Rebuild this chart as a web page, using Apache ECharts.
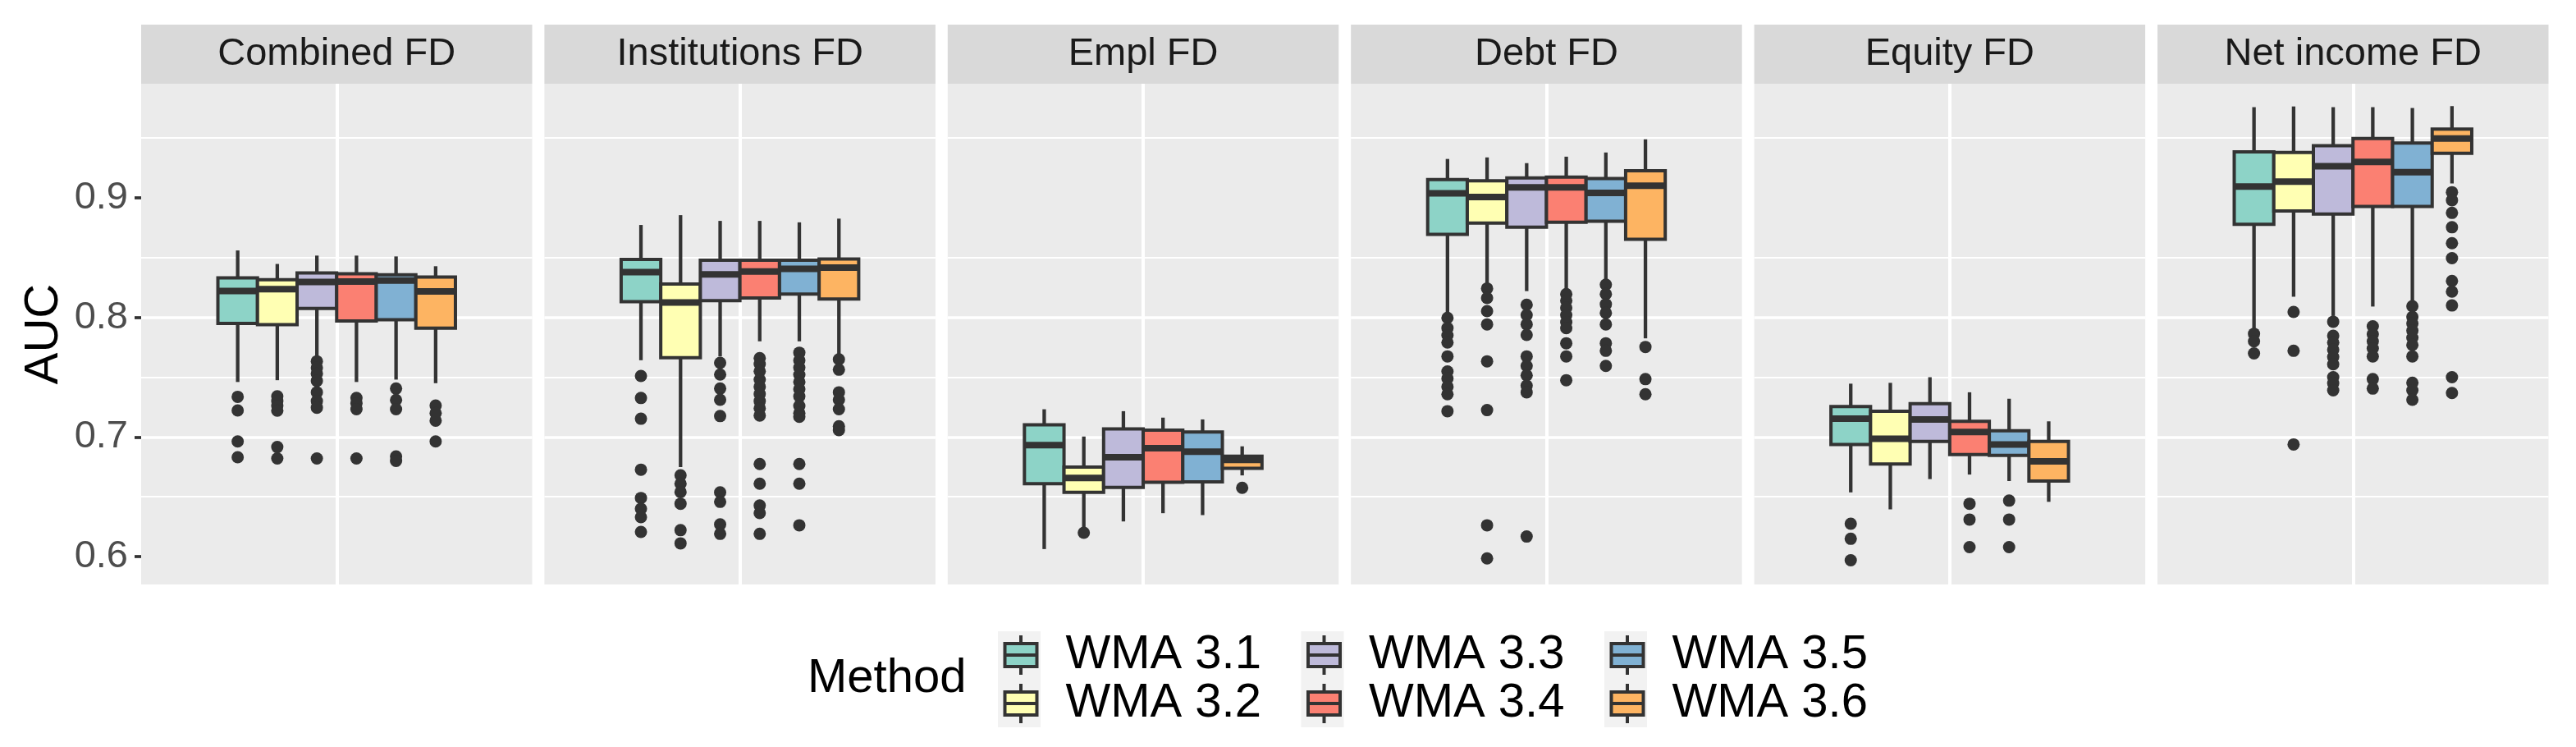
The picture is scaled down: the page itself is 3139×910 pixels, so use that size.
<!DOCTYPE html>
<html>
<head>
<meta charset="utf-8">
<script src="https://cdn.jsdelivr.net/npm/echarts@6/dist/echarts.min.js"></script>
<style>
html,body{margin:0;padding:0;background:#ffffff;}
#chart{width:3139px;height:910px;}
</style>
</head>
<body>
<div id="chart"></div>
<script>
// ---------------- data ----------------
const panels = ['Combined FD', 'Institutions FD', 'Empl FD', 'Debt FD', 'Equity FD', 'Net income FD'];
const methods = ['WMA 3.1', 'WMA 3.2', 'WMA 3.3', 'WMA 3.4', 'WMA 3.5', 'WMA 3.6'];
const yTicks = [0.6, 0.7, 0.8, 0.9];

// box statistics per method: [lower whisker, Q1, median, Q3, upper whisker]
const combinedStats = [
  [0.746, 0.795, 0.822, 0.833, 0.856],
  [0.7475, 0.794, 0.8236, 0.8315, 0.8447],
  [0.767, 0.8075, 0.8296, 0.8372, 0.8517],
  [0.746, 0.797, 0.830, 0.8365, 0.8517],
  [0.748, 0.798, 0.8308, 0.8356, 0.851],
  [0.745, 0.791, 0.8217, 0.8337, 0.8428]
];
const combinedOutliers = [
  [0.7336, 0.7222, 0.6963, 0.6831],
  [0.734, 0.730, 0.726, 0.722, 0.6916, 0.6821],
  [0.7633, 0.7579, 0.753, 0.747, 0.7374, 0.730, 0.7245, 0.6821],
  [0.7327, 0.728, 0.7232, 0.6821],
  [0.7405, 0.731, 0.7232, 0.6837, 0.680],
  [0.7263, 0.720, 0.7137, 0.6963]
];

const institutionsStats = [
  [0.7642, 0.8132, 0.8378, 0.8485, 0.8773],
  [0.6749, 0.7664, 0.8125, 0.828, 0.8855],
  [0.7674, 0.8141, 0.8359, 0.8479, 0.8807],
  [0.780, 0.8163, 0.8384, 0.8479, 0.8807],
  [0.780, 0.8195, 0.8406, 0.8479, 0.8795],
  [0.769, 0.8154, 0.8416, 0.8488, 0.8826]
];
const institutionsOutliers = [
  [0.751, 0.7326, 0.7153, 0.6727, 0.649, 0.640, 0.633, 0.6206],
  [0.668, 0.661, 0.654, 0.6442, 0.6221, 0.6111],
  [0.762, 0.7522, 0.7405, 0.7311, 0.7175, 0.6537, 0.6458, 0.6269, 0.619],
  [0.766, 0.761, 0.755, 0.748, 0.742, 0.736, 0.730, 0.724, 0.718, 0.6774, 0.661, 0.6427, 0.6364, 0.619],
  [0.7705, 0.764, 0.758, 0.752, 0.746, 0.740, 0.734, 0.726, 0.720, 0.7169, 0.6774, 0.661, 0.6262],
  [0.7649, 0.7563, 0.7374, 0.7311, 0.7232, 0.709, 0.7058]
];

const emplStats = [
  [0.6063, 0.661, 0.6932, 0.7102, 0.7232],
  [0.6237, 0.6537, 0.6657, 0.6749, 0.7004],
  [0.6294, 0.6578, 0.6831, 0.7068, 0.7216],
  [0.6363, 0.6622, 0.6907, 0.7058, 0.7162],
  [0.6347, 0.6625, 0.6878, 0.7042, 0.7147],
  [0.6679, 0.6739, 0.6808, 0.684, 0.6922]
];
const emplOutliers = [
  [],
  [0.6199],
  [],
  [],
  [],
  [0.6575]
];

const debtStats = [
  [0.8037, 0.8694, 0.9038, 0.9152, 0.9325],
  [0.8274, 0.8788, 0.9006, 0.9142, 0.9338],
  [0.822, 0.8754, 0.9088, 0.9167, 0.929],
  [0.8233, 0.8795, 0.9088, 0.9174, 0.9344],
  [0.8305, 0.8804, 0.9041, 0.9161, 0.9379],
  [0.7825, 0.8653, 0.9101, 0.9227, 0.9489]
];
const debtOutliers = [
  [0.7996, 0.7911, 0.785, 0.779, 0.7674, 0.7548, 0.749, 0.742, 0.7358, 0.7216],
  [0.8242, 0.8163, 0.8053, 0.7942, 0.7633, 0.7225, 0.6262, 0.5985],
  [0.8106, 0.802, 0.7942, 0.7854, 0.7674, 0.7595, 0.7516, 0.743, 0.7374, 0.6168],
  [0.8195, 0.814, 0.808, 0.802, 0.796, 0.791, 0.7784, 0.7674, 0.7475],
  [0.8274, 0.8195, 0.811, 0.8037, 0.7942, 0.7784, 0.7721, 0.7595],
  [0.7753, 0.7484, 0.7358]
];

const equityStats = [
  [0.6537, 0.6938, 0.7153, 0.7254, 0.7446],
  [0.6395, 0.6774, 0.6985, 0.7216, 0.7453],
  [0.6648, 0.6963, 0.7147, 0.7279, 0.75],
  [0.6686, 0.6853, 0.7042, 0.7131, 0.7374],
  [0.6632, 0.6847, 0.6938, 0.7052, 0.732],
  [0.6458, 0.6632, 0.6796, 0.6963, 0.7131]
];
const equityOutliers = [
  [0.6275, 0.6149, 0.5969],
  [],
  [],
  [0.6442, 0.631, 0.6079],
  [0.6468, 0.631, 0.6079],
  []
];

const netIncomeStats = [
  [0.7879, 0.8779, 0.9095, 0.9385, 0.9758],
  [0.8173, 0.889, 0.9136, 0.9379, 0.9764],
  [0.8012, 0.8864, 0.9265, 0.9436, 0.9758],
  [0.8091, 0.8927, 0.93, 0.9496, 0.9758],
  [0.8132, 0.8927, 0.9215, 0.9458, 0.9751],
  [0.912, 0.9373, 0.9496, 0.9575, 0.9767]
];
const netIncomeOutliers = [
  [0.7863, 0.780, 0.7699],
  [0.8046, 0.7721, 0.6938],
  [0.7964, 0.7847, 0.779, 0.773, 0.767, 0.7608, 0.75, 0.745, 0.739],
  [0.7926, 0.786, 0.780, 0.774, 0.7674, 0.7484, 0.7405],
  [0.8094, 0.8005, 0.795, 0.789, 0.783, 0.777, 0.7674, 0.7453, 0.739, 0.7311],
  [0.9047, 0.898, 0.8874, 0.8754, 0.8621, 0.8495, 0.8305, 0.8216, 0.81, 0.75, 0.7368]
];

const panelStats = [combinedStats, institutionsStats, emplStats, debtStats, equityStats, netIncomeStats];
const panelOutliers = [combinedOutliers, institutionsOutliers, emplOutliers, debtOutliers, equityOutliers, netIncomeOutliers];

// ---------------- styles / layout ----------------
const FONT = "'Liberation Sans', Arial, Helvetica, sans-serif";
const fills = ['#8DD3C7', '#FFFFB3', '#BEBADA', '#FB8072', '#80B1D3', '#FDB462'];
const INK = '#333333';
const LAYOUT = {
  left0: 172, width: 476.5, gap: 14.9,
  top: 102, height: 610,
  stripTop: 30, stripH: 72,
  yMin: 0.5767, yMax: 0.9954,
  boxW: 0.1215
};
const panelLeft = p => LAYOUT.left0 + p * (LAYOUT.width + LAYOUT.gap);
const dodge = k => (k - (methods.length - 1) / 2) * LAYOUT.boxW;

const grids = [], xAxes = [], yAxes = [], series = [], graphics = [];

panels.forEach((title, p) => {
  const left = panelLeft(p);
  grids.push({
    left: left, top: LAYOUT.top, width: LAYOUT.width, height: LAYOUT.height,
    show: true, backgroundColor: '#EBEBEB', borderWidth: 0
  });
  xAxes.push({
    gridIndex: p, type: 'value', min: -0.6, max: 0.6, interval: 0.6,
    axisLine: {show: false, onZero: false}, axisTick: {show: false}, axisLabel: {show: false},
    splitLine: {show: true, showMinLine: false, showMaxLine: false,
      lineStyle: {color: '#FFFFFF', width: 4}}
  });
  yAxes.push({
    gridIndex: p, type: 'value', position: 'left',
    min: LAYOUT.yMin, max: LAYOUT.yMax, splitNumber: 5,
    axisLine: {show: false, onZero: false},
    axisTick: {show: p === 0, length: 8, customValues: yTicks,
      lineStyle: {color: INK, width: 3.7}},
    axisLabel: {show: p === 0, customValues: yTicks, margin: 16,
      fontSize: 47, color: '#4D4D4D', fontFamily: FONT,
      formatter: v => Number(v).toFixed(1)},
    splitLine: {show: true, showMinLine: false, showMaxLine: false,
      lineStyle: {color: '#FFFFFF', width: 3.7}},
    minorTick: {show: false, splitNumber: 2},
    minorSplitLine: {show: true, lineStyle: {color: '#FFFFFF', width: 1.85}},
    name: p === 0 ? 'AUC' : '',
    nameLocation: 'middle', nameRotate: 90, nameGap: 89,
    nameTextStyle: {fontSize: 58, color: '#000000', fontFamily: FONT}
  });

  // strip
  graphics.push({
    type: 'rect', z: 50,
    shape: {x: left, y: LAYOUT.stripTop, width: LAYOUT.width, height: LAYOUT.stripH},
    style: {fill: '#D9D9D9'}
  });
  graphics.push({
    type: 'text', z: 51,
    x: left + LAYOUT.width / 2, y: LAYOUT.stripTop + LAYOUT.stripH / 2,
    style: {text: title, fontSize: 47, fontFamily: FONT, fill: '#1A1A1A',
      align: 'center', verticalAlign: 'middle'}
  });

  // boxes
  methods.forEach((m, k) => {
    const s = panelStats[p][k];
    series.push({
      type: 'custom', name: m, xAxisIndex: p, yAxisIndex: p,
      itemStyle: {color: fills[k]},
      encode: {x: 0, y: [1, 2, 3, 4, 5]},
      data: [[dodge(k), s[0], s[1], s[2], s[3], s[4]]],
      renderItem: (params, api) => {
        const xv = api.value(0);
        const pLo = api.coord([xv, api.value(1)]);
        const pQ1 = api.coord([xv, api.value(2)]);
        const pMed = api.coord([xv, api.value(3)]);
        const pQ3 = api.coord([xv, api.value(4)]);
        const pHi = api.coord([xv, api.value(5)]);
        const half = api.size([LAYOUT.boxW, 0])[0] / 2;
        const x = pMed[0];
        return {
          type: 'group',
          children: [
            {type: 'line', shape: {x1: x, y1: pHi[1], x2: x, y2: pQ3[1]},
              style: {stroke: INK, lineWidth: 4.3}},
            {type: 'line', shape: {x1: x, y1: pQ1[1], x2: x, y2: pLo[1]},
              style: {stroke: INK, lineWidth: 4.3}},
            {type: 'rect', shape: {x: x - half, y: pQ3[1], width: 2 * half, height: pQ1[1] - pQ3[1]},
              style: {fill: fills[k], stroke: INK, lineWidth: 4}},
            {type: 'line', shape: {x1: x - half, y1: pMed[1], x2: x + half, y2: pMed[1]},
              style: {stroke: INK, lineWidth: 8}}
          ]
        };
      }
    });
  });

  // outliers
  const pts = [];
  panelOutliers[p].forEach((arr, k) => arr.forEach(v => pts.push([dodge(k), v])));
  series.push({
    type: 'scatter', name: 'outliers', xAxisIndex: p, yAxisIndex: p,
    symbol: 'circle', symbolSize: 15,
    itemStyle: {color: INK, opacity: 1},
    data: pts, z: 3
  });
});

// legend key backgrounds
const LEG = {keyLeft: 1216, keyTop: 769, keyW: 52, keyH: 117, colStep: 369.5};
for (let c = 0; c < 3; c++) {
  graphics.push({
    type: 'rect', z: 0,
    shape: {x: LEG.keyLeft + c * LEG.colStep, y: LEG.keyTop, width: LEG.keyW, height: LEG.keyH},
    style: {fill: '#F2F2F2'}
  });
}

const ICON = 'path://M19.5 0L19.5 10M19.5 38L19.5 48M0 10L39 10L39 38L0 38ZM0 24L39 24';
const legends = [];
for (let c = 0; c < 3; c++) {
  legends.push({
    orient: 'vertical',
    left: LEG.keyLeft + c * LEG.colStep + (LEG.keyW - 39) / 2,
    top: LEG.keyTop,
    padding: 0, itemGap: 1,
    itemWidth: 39, itemHeight: 48,
    icon: ICON,
    selectedMode: false,
    itemStyle: {borderColor: INK, borderWidth: 4},
    textStyle: {fontSize: 58, color: '#000000', fontFamily: FONT, padding: [0, 0, 0, 30]},
    data: [methods[2 * c], methods[2 * c + 1]]
  });
}

const option = {
  backgroundColor: '#FFFFFF',
  animation: false,
  title: {
    text: 'Method', left: 984, top: 798, padding: 0,
    textStyle: {fontSize: 58, fontWeight: 'normal', color: '#000000', fontFamily: FONT}
  },
  legend: legends,
  grid: grids,
  xAxis: xAxes,
  yAxis: yAxes,
  series: series,
  graphic: graphics
};

const chart = echarts.init(document.getElementById('chart'), null, {renderer: 'canvas', width: 3139, height: 910});
chart.setOption(option);
</script>
</body>
</html>
